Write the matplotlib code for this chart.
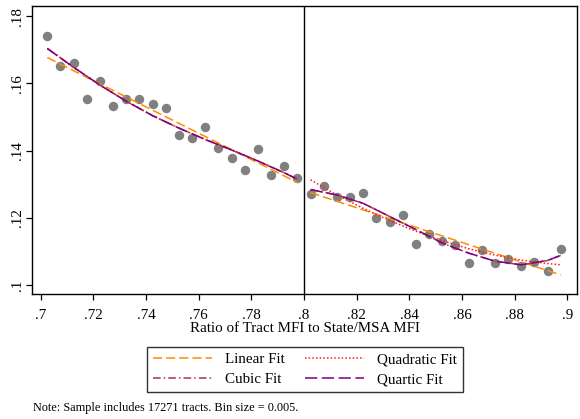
import matplotlib
matplotlib.use('Agg')
import matplotlib.pyplot as plt

plt.rcParams['font.family'] = ['Liberation Serif', 'DejaVu Serif']

# bin centres (bin size 0.005) and mean outcome per bin
x_left = [0.7025, 0.7075, 0.7125, 0.7175, 0.7225, 0.7275, 0.7325, 0.7375, 0.7425, 0.7475,
          0.7525, 0.7575, 0.7625, 0.7675, 0.7725, 0.7775, 0.7825, 0.7875, 0.7925, 0.7975]
y_left = [0.1742, 0.1653, 0.1662, 0.1553, 0.1606, 0.1534, 0.1554, 0.1553, 0.1539, 0.1527,
          0.1446, 0.1437, 0.1469, 0.1408, 0.1377, 0.1343, 0.1406, 0.1327, 0.1355, 0.1318]
x_right = [0.8025, 0.8075, 0.8125, 0.8175, 0.8225, 0.8275, 0.8325, 0.8375, 0.8425, 0.8475,
           0.8525, 0.8575, 0.8625, 0.8675, 0.8725, 0.8775, 0.8825, 0.8875, 0.8925, 0.8975]
y_right = [0.1272, 0.1294, 0.1263, 0.1263, 0.1274, 0.1200, 0.1188, 0.1209, 0.1121, 0.1151,
           0.1132, 0.1118, 0.1066, 0.1103, 0.1065, 0.1076, 0.1056, 0.1068, 0.1043, 0.1106]

# fitted values on each side of the .8 cutoff
grid_left = [0.7025, 0.7125, 0.7225, 0.7325, 0.7425, 0.7525, 0.7625, 0.7725, 0.7825, 0.7925, 0.7975]
grid_right = [0.8025, 0.8125, 0.8225, 0.8325, 0.8425, 0.8525, 0.8625, 0.8725, 0.8825, 0.8925, 0.8975]

lin_x_left = [0.7025, 0.7975]
lin_left = [0.1677, 0.1305]
lin_x_right = [0.8025, 0.8975]
lin_right = [0.1275, 0.1030]

quad_left = [0.1704, 0.1648, 0.1595, 0.1547, 0.1504, 0.1467, 0.1433, 0.1402, 0.1369, 0.1334, 0.1315]
quad_right = [0.1313, 0.1268, 0.1228, 0.1192, 0.1160, 0.1132, 0.1108, 0.1089, 0.1074, 0.1064, 0.1060]

cubic_left = [0.1704, 0.1648, 0.1595, 0.1547, 0.1504, 0.1467, 0.1433, 0.1402, 0.1369, 0.1334, 0.1315]
cubic_right = [0.1284, 0.1268, 0.1243, 0.1204, 0.1165, 0.1125, 0.1095, 0.1071, 0.1060, 0.1073, 0.1088]

quart_left = [0.1704, 0.1648, 0.1595, 0.1547, 0.1504, 0.1467, 0.1433, 0.1402, 0.1369, 0.1334, 0.1315]
quart_right = [0.1284, 0.1268, 0.1243, 0.1204, 0.1165, 0.1125, 0.1095, 0.1071, 0.1060, 0.1073, 0.1088]

xticks = [0.7, 0.72, 0.74, 0.76, 0.78, 0.8, 0.82, 0.84, 0.86, 0.88, 0.9]
xticklabels = ['.7', '.72', '.74', '.76', '.78', '.8', '.82', '.84', '.86', '.88', '.9']
yticks = [0.1, 0.12, 0.14, 0.16, 0.18]
yticklabels = ['.1', '.12', '.14', '.16', '.18']

fits = [
    # label, (x, y) per side, color, dashes
    ('Linear Fit', [(lin_x_left, lin_left), (lin_x_right, lin_right)], '#ff8c00', (6, 2.6)),
    ('Quadratic Fit', [(grid_left, quad_left), (grid_right, quad_right)], '#ff1a1a', (1, 1.4)),
    ('Cubic Fit', [(grid_left, cubic_left), (grid_right, cubic_right)], '#a03a48', (5, 2, 1, 2)),
    ('Quartic Fit', [(grid_left, quart_left), (grid_right, quart_right)], '#800080', (8, 3)),
]

fig = plt.figure(figsize=(5.8, 4.19), dpi=100)
ax = fig.add_axes([32/580, 1-294/419, 545/580, 288/419])

ax.plot(x_left, y_left, 'o', color='#808080', ms=6.8, mec='none', zorder=2)
ax.plot(x_right, y_right, 'o', color='#808080', ms=6.8, mec='none', zorder=2)

handles = []
for label, sides, col, dash in fits:
    for xs, ys in sides:
        ln, = ax.plot(xs, ys, color=col, lw=1.1, dashes=dash, zorder=3)
    handles.append(ln)

ax.axvline(0.8, color='black', lw=1.0, zorder=1)

ax.set_xlim(0.6967, 0.9037)
ax.set_ylim(0.09732, 0.18304)
ax.set_xticks(xticks)
ax.set_xticklabels(xticklabels, fontsize=10.8)
ax.set_yticks(yticks)
ax.set_yticklabels(yticklabels, fontsize=10.8, rotation=90, va='center')
ax.tick_params(direction='out', length=4, width=0.9)
ax.tick_params(axis='x', pad=6.5)
ax.tick_params(axis='y', pad=1.5)
for s in ax.spines.values():
    s.set_linewidth(1.0)
    s.set_color('black')

ax.set_xlabel('Ratio of Tract MFI to State/MSA MFI', fontsize=10.8, labelpad=0.5)

# legend order: Linear, Quadratic / Cubic, Quartic
order = [0, 2, 1, 3]
leg = fig.legend([handles[i] for i in order], [fits[i][0] for i in order],
                 ncol=2, loc='center', bbox_to_anchor=(305/580, 1-369.5/419),
                 fontsize=10.8, frameon=True, fancybox=False, handlelength=3.9,
                 handletextpad=0.85, columnspacing=1.4, labelspacing=0.42,
                 borderpad=0.4)
leg.get_frame().set_edgecolor('black')
leg.get_frame().set_linewidth(1.0)

fig.text(33/580, 1-408/419, 'Note: Sample includes 17271 tracts. Bin size = 0.005.',
         fontsize=8.8, va='center', ha='left')

fig.savefig('out.png', dpi=100)
